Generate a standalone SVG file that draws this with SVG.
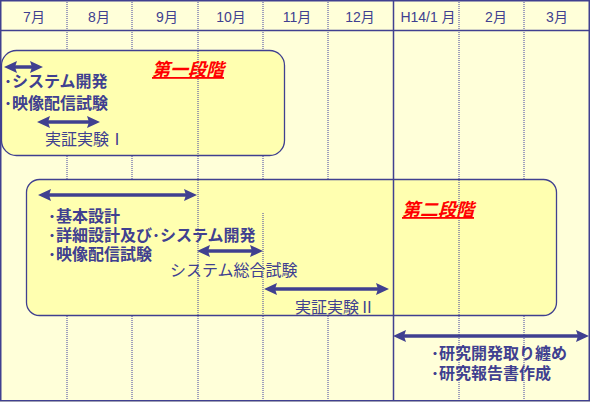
<svg xmlns="http://www.w3.org/2000/svg" width="590" height="402" viewBox="0 0 590 402">
<style>
.grid{stroke:#4040a0;stroke-width:1;stroke-dasharray:1,1;fill:none}
.solid{stroke:#404090;stroke-width:1.5;fill:none}
.box{fill:#ffffb0;stroke:#404090;stroke-width:1.3}
.mon{font-family:"Liberation Sans","Noto Sans CJK JP",sans-serif;font-size:14px;fill:#404090;text-anchor:middle}
.t{font-family:"Noto Sans CJK JP",sans-serif;font-size:16px;fill:#404090}
.b{font-weight:bold}
.stage{font-family:"Noto Sans CJK JP",sans-serif;font-size:18px;font-weight:bold;font-style:italic;fill:#ff0000;text-decoration:underline}
.arr{stroke:#404090;stroke-width:3.5;marker-start:url(#ah);marker-end:url(#ah)}
</style>
<defs>
<marker id="ah" markerUnits="userSpaceOnUse" markerWidth="13" markerHeight="12" viewBox="0 0 13 12" refX="4" refY="6" orient="auto-start-reverse">
<path d="M0,0 L13,6 L0,12 L2,6 Z" fill="#404090"/>
</marker>
</defs>
<rect x="0" y="0" width="590" height="402" fill="#ffffd9"/>
<g id="grid">
<line class="grid" x1="67" y1="0" x2="67" y2="401"/>
<line class="grid" x1="132" y1="0" x2="132" y2="401"/>
<line class="grid" x1="198" y1="0" x2="198" y2="401"/>
<line class="grid" x1="263" y1="0" x2="263" y2="401"/>
<line class="grid" x1="328" y1="0" x2="328" y2="401"/>
<line class="solid" x1="393.5" y1="0" x2="393.5" y2="401"/>
<line class="grid" x1="459" y1="0" x2="459" y2="401"/>
<line class="grid" x1="524" y1="0" x2="524" y2="401"/>
<line class="solid" x1="0" y1="30.5" x2="590" y2="30.5"/>
<rect class="solid" x="0.75" y="0.75" width="588.5" height="400" />
</g>
<g id="header">
<text class="mon" x="34" y="22">7月</text>
<text class="mon" x="99" y="22">8月</text>
<text class="mon" x="167" y="22">9月</text>
<text class="mon" x="231" y="22">10月</text>
<text class="mon" x="297" y="22">11月</text>
<text class="mon" x="360" y="22">12月</text>
<text class="mon" x="428" y="22">H14/1 月</text>
<text class="mon" x="496" y="22">2月</text>
<text class="mon" x="557" y="22">3月</text>
</g>
<g id="stage1">
<rect class="box" x="1.5" y="50.5" width="283" height="105" rx="15"/>
<line class="grid" x1="198" y1="51" x2="198" y2="155"/>
<text class="stage" x="152" y="76">第一段階</text>
<text class="t b" x="4" y="87">･システム開発</text>
<text class="t b" x="4" y="109">･映像配信試験</text>
<text class="t" x="45" y="145">実証実験Ⅰ</text>
</g>
<g id="stage2">
<rect class="box" x="26.5" y="179.5" width="530" height="136" rx="13"/>
<line class="grid" x1="198" y1="180" x2="198" y2="315"/>
<line class="grid" x1="263" y1="213" x2="263" y2="315"/>
<line class="solid" x1="393.5" y1="180" x2="393.5" y2="315"/>
<line class="grid" x1="459" y1="180" x2="459" y2="315"/>
<text class="stage" x="402" y="216">第二段階</text>
<text class="t b" x="48" y="222">･基本設計</text>
<text class="t b" x="48" y="241">･詳細設計及び･システム開発</text>
<text class="t b" x="48" y="260">･映像配信試験</text>
<text class="t" x="170" y="276">システム総合試験</text>
<text class="t" x="295" y="313">実証実験Ⅱ</text>
</g>
<g id="stage3">
<text class="t b" x="431" y="359">･研究開発取り纏め</text>
<text class="t b" x="431" y="379">･研究報告書作成</text>
</g>
<g id="connectors">
<line class="arr" x1="13" y1="67" x2="34" y2="67"/>
<line class="arr" x1="46" y1="122" x2="91" y2="122"/>
<line class="arr" x1="47" y1="195" x2="188" y2="195"/>
<line class="arr" x1="206" y1="251" x2="254" y2="251"/>
<line class="arr" x1="273" y1="289" x2="380" y2="289"/>
<line class="arr" x1="402" y1="336" x2="580" y2="336"/>
</g>
</svg>
